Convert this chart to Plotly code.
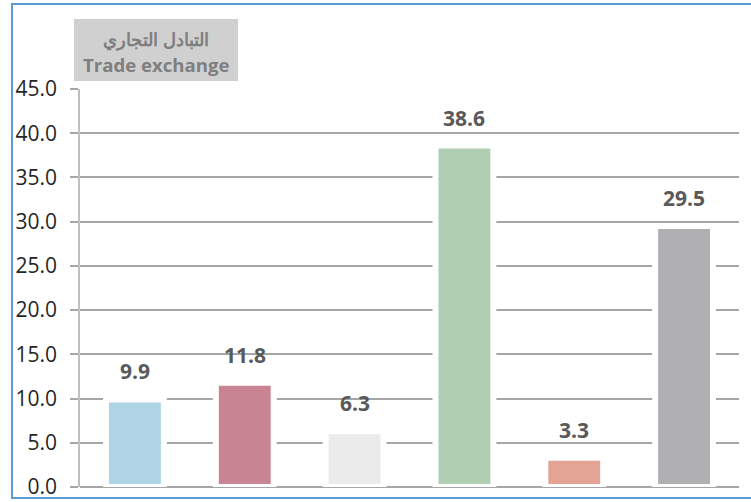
import plotly.graph_objects as go

categories = ["A", "B", "C", "D", "E", "F"]
values = [9.9, 11.8, 6.3, 38.6, 3.3, 29.5]
labels = ["9.9", "11.8", "6.3", "38.6", "3.3", "29.5"]
colors = ["#aed4e6", "#c98494", "#ebebeb", "#b0cfb2", "#e3a395", "#b0b0b2"]
tick_vals = [0, 5, 10, 15, 20, 25, 30, 35, 40, 45]
tick_text = ["0.0", "5.0", "10.0", "15.0", "20.0", "25.0", "30.0", "35.0", "40.0", "45.0"]
title_ar = "التبادل التجاري"
title_en = "Trade exchange"

W, H = 751, 502
# desired on-screen plot area: x 80..739, y 89..487
L, T = 80, 89
R = W - 739
B = H - 487
pw, ph = W - L - R, H - T - B

def px(x):
    return (x - L) / pw

def py(y):
    return (H - B - y) / ph

fig = go.Figure()
fig.add_trace(go.Bar(
    x=categories, y=values,
    marker=dict(color=colors, line=dict(color="white", width=6)),
    width=0.527,
    hoverinfo="skip",
))

for c, v, t in zip(categories, values, labels):
    fig.add_annotation(x=c, y=v, text=f"<b>{t}</b>", showarrow=False,
                       yanchor="bottom", yshift=12,
                       font=dict(family="Open Sans", size=21, color="#595959"))

# outer blue frame
fig.add_shape(type="rect", xref="paper", yref="paper",
              x0=px(12), x1=px(790), y0=py(498), y1=py(4),
              line=dict(color="#5b9bd5", width=2), fillcolor="rgba(0,0,0,0)", layer="below")
# title box
fig.add_shape(type="rect", xref="paper", yref="paper",
              x0=px(74), x1=px(238), y0=py(81), y1=py(19),
              line=dict(width=0), fillcolor="#d0d0d0", layer="above")
fig.add_annotation(xref="paper", yref="paper", x=px(156), y=py(39),
                   text=f"<b>{title_ar}</b>", showarrow=False,
                   font=dict(family="Noto Sans", size=17.8, color="#7f7f7f"),
                   xanchor="center", yanchor="middle")
fig.add_annotation(xref="paper", yref="paper", x=px(156), y=py(65),
                   text=f"<b>{title_en}</b>", showarrow=False,
                   font=dict(family="Open Sans", size=18.6, color="#7f7f7f"),
                   xanchor="center", yanchor="middle")

fig.update_layout(
    width=W, height=H,
    margin=dict(l=L, r=R, t=T, b=B, autoexpand=False),
    paper_bgcolor="white", plot_bgcolor="white",
    showlegend=False,
    xaxis=dict(range=[-0.5, 5.5], showticklabels=False, showgrid=False,
               zeroline=False, showline=False, ticks="", automargin=False),
    yaxis=dict(range=[0, 45], tickvals=tick_vals, ticktext=tick_text,
               automargin=False,
               showgrid=True, gridcolor="#a6a6a6", gridwidth=1.5,
               zeroline=True, zerolinecolor="#a6a6a6", zerolinewidth=1.5,
               showline=True, linecolor="#bfbfbf", linewidth=1.5,
               ticks="outside", ticklen=8, tickcolor="#a6a6a6", tickwidth=1.5,
               ticklabelstandoff=9,
               tickfont=dict(family="Open Sans", size=21, color="#262626")),
)

fig.write_html("out.html",
               config={"displayModeBar": False},
               post_script="document.body.style.margin='0';document.body.style.overflow='hidden';")
